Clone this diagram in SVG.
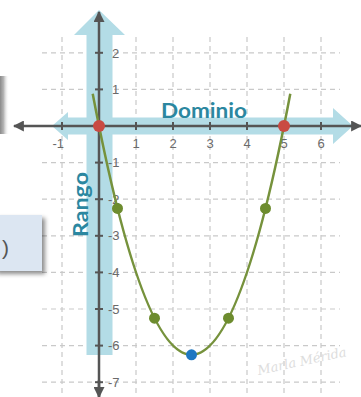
<svg xmlns="http://www.w3.org/2000/svg" width="361" height="397" viewBox="0 0 361 397">
<defs>
<style>
.grid{stroke:#c9c9c9;stroke-width:1.2;stroke-dasharray:5 4;fill:none}
.band{fill:#b3dce6}
.axis{stroke:#555;stroke-width:2.5;fill:none}
.tick{stroke:#555;stroke-width:2}
.lbl{font-family:"Liberation Sans",Arial,sans-serif;font-size:13px;fill:#6a6a6a}
.title{font-family:"Lato","Open Sans",sans-serif;font-weight:bold;font-size:20px;fill:#2b87a0}
.curve{stroke:#76923c;stroke-width:2.5;fill:none}
.gdot{fill:#6d8c2e}
.rdot{fill:#c94a43}
.bdot{fill:#1f78c2}
</style>
<marker id="ah" viewBox="0 0 10 10" refX="9" refY="5" markerWidth="4.4" markerHeight="4.4" orient="auto" markerUnits="strokeWidth">
<path d="M0,0 L10,5 L0,10 Z" fill="#555"/>
</marker>
<filter id="sh" x="-30%" y="-30%" width="160%" height="160%">
<feDropShadow dx="3" dy="3" stdDeviation="2" flood-color="#000" flood-opacity="0.45"/>
</filter>
<linearGradient id="edge" x1="0" x2="1" y1="0" y2="0">
<stop offset="0" stop-color="#8a8a8a"/>
<stop offset="0.4" stop-color="#b5b5b5"/>
<stop offset="1" stop-color="#ffffff" stop-opacity="0"/>
</linearGradient>
</defs>
<rect width="361" height="397" fill="#fff"/>
<g id="grid">
<line class="grid" x1="62" y1="37" x2="62" y2="397"/>
<line class="grid" x1="136" y1="37" x2="136" y2="397"/>
<line class="grid" x1="173" y1="37" x2="173" y2="397"/>
<line class="grid" x1="210" y1="37" x2="210" y2="397"/>
<line class="grid" x1="247" y1="37" x2="247" y2="397"/>
<line class="grid" x1="284" y1="37" x2="284" y2="397"/>
<line class="grid" x1="321" y1="37" x2="321" y2="397"/>
<line class="grid" x1="42" y1="52.8" x2="340" y2="52.8"/>
<line class="grid" x1="42" y1="89.4" x2="340" y2="89.4"/>
<line class="grid" x1="42" y1="162.6" x2="340" y2="162.6"/>
<line class="grid" x1="42" y1="199.2" x2="340" y2="199.2"/>
<line class="grid" x1="42" y1="235.8" x2="340" y2="235.8"/>
<line class="grid" x1="42" y1="272.4" x2="340" y2="272.4"/>
<line class="grid" x1="42" y1="309" x2="340" y2="309"/>
<line class="grid" x1="42" y1="345.6" x2="340" y2="345.6"/>
<line class="grid" x1="42" y1="382.2" x2="340" y2="382.2"/>
</g>
<g id="edge-box">
<rect x="0" y="76" width="9" height="58" fill="url(#edge)"/>
</g>
<g id="side-box">
<rect x="-6" y="215" width="48" height="56" fill="#dce6f2" filter="url(#sh)"/>
<text x="9" y="255" text-anchor="end" font-family="Liberation Sans,Arial,sans-serif" font-size="21" fill="#555">)</text>
</g>
<g id="dominio-band">
<path class="band" d="M52,126 L68,112 L68,117.5 L333,117.5 L333,108 L353,126 L333,144 L333,134.5 L68,134.5 L68,140 Z"/>
</g>
<g id="rango-band">
<path class="band" d="M99,10 L125,35 L112.5,35 L112.5,355 L86.5,355 L86.5,35 L74,35 Z"/>
</g>
<g id="axes">
<line class="axis" x1="99" y1="397" x2="99" y2="12" marker-end="url(#ah)"/>
<line class="axis" x1="99" y1="380" x2="99" y2="397" marker-end="url(#ah)"/>
<line class="axis" x1="99" y1="126" x2="14" y2="126" marker-end="url(#ah)"/>
<line class="axis" x1="99" y1="126" x2="361" y2="126" marker-end="url(#ah)"/>
<g class="tick">
<line x1="62" y1="122" x2="62" y2="130"/>
<line x1="136" y1="122" x2="136" y2="130"/>
<line x1="173" y1="122" x2="173" y2="130"/>
<line x1="210" y1="122" x2="210" y2="130"/>
<line x1="247" y1="122" x2="247" y2="130"/>
<line x1="284" y1="122" x2="284" y2="130"/>
<line x1="321" y1="122" x2="321" y2="130"/>
<line x1="95" y1="52.8" x2="103" y2="52.8"/>
<line x1="95" y1="89.4" x2="103" y2="89.4"/>
<line x1="95" y1="162.6" x2="103" y2="162.6"/>
<line x1="95" y1="199.2" x2="103" y2="199.2"/>
<line x1="95" y1="235.8" x2="103" y2="235.8"/>
<line x1="95" y1="272.4" x2="103" y2="272.4"/>
<line x1="95" y1="309" x2="103" y2="309"/>
<line x1="95" y1="345.6" x2="103" y2="345.6"/>
<line x1="95" y1="382.2" x2="103" y2="382.2"/>
</g>
</g>
<g id="labels">
<text class="title" x="161" y="118" textLength="86" lengthAdjust="spacingAndGlyphs">Dominio</text>
<text class="title" x="88" y="237" textLength="65" lengthAdjust="spacingAndGlyphs" transform="rotate(-90 88 237)">Rango</text>
<g class="lbl">
<text x="64" y="148" text-anchor="end">-1</text>
<text x="136" y="148" text-anchor="middle">1</text>
<text x="173" y="148" text-anchor="middle">2</text>
<text x="210" y="148" text-anchor="middle">3</text>
<text x="247" y="148" text-anchor="middle">4</text>
<text x="284" y="148" text-anchor="middle">5</text>
<text x="321" y="148" text-anchor="middle">6</text>
<text x="112" y="57.5">2</text>
<text x="112" y="94">1</text>
<text x="108" y="167.2">-1</text>
<text x="108" y="203.8">-2</text>
<text x="108" y="240.4">-3</text>
<text x="108" y="277">-4</text>
<text x="108" y="313.6">-5</text>
<text x="108" y="350.2">-6</text>
<text x="108" y="386.8">-7</text>
</g>
</g>
<g id="parabola">
<path class="curve" d="M92.71,93.83 Q191.5,615.7 290.29,93.83"/>
</g>
<g id="points">
<circle class="rdot" cx="99" cy="126" r="6"/>
<circle class="rdot" cx="284" cy="126" r="6"/>
<circle class="gdot" cx="117.5" cy="208.4" r="5.5"/>
<circle class="gdot" cx="154.5" cy="318.2" r="5.5"/>
<circle class="gdot" cx="228.5" cy="318.2" r="5.5"/>
<circle class="gdot" cx="265.5" cy="208.4" r="5.5"/>
<circle class="bdot" cx="191.5" cy="354.8" r="5.5"/>
</g>
<g id="signature">
<text x="256" y="368" font-family="DejaVu Serif,serif" font-style="italic" font-size="13" fill="#dddddd" transform="rotate(-12 290 360)">Marla Mérida</text>
</g>
</svg>
